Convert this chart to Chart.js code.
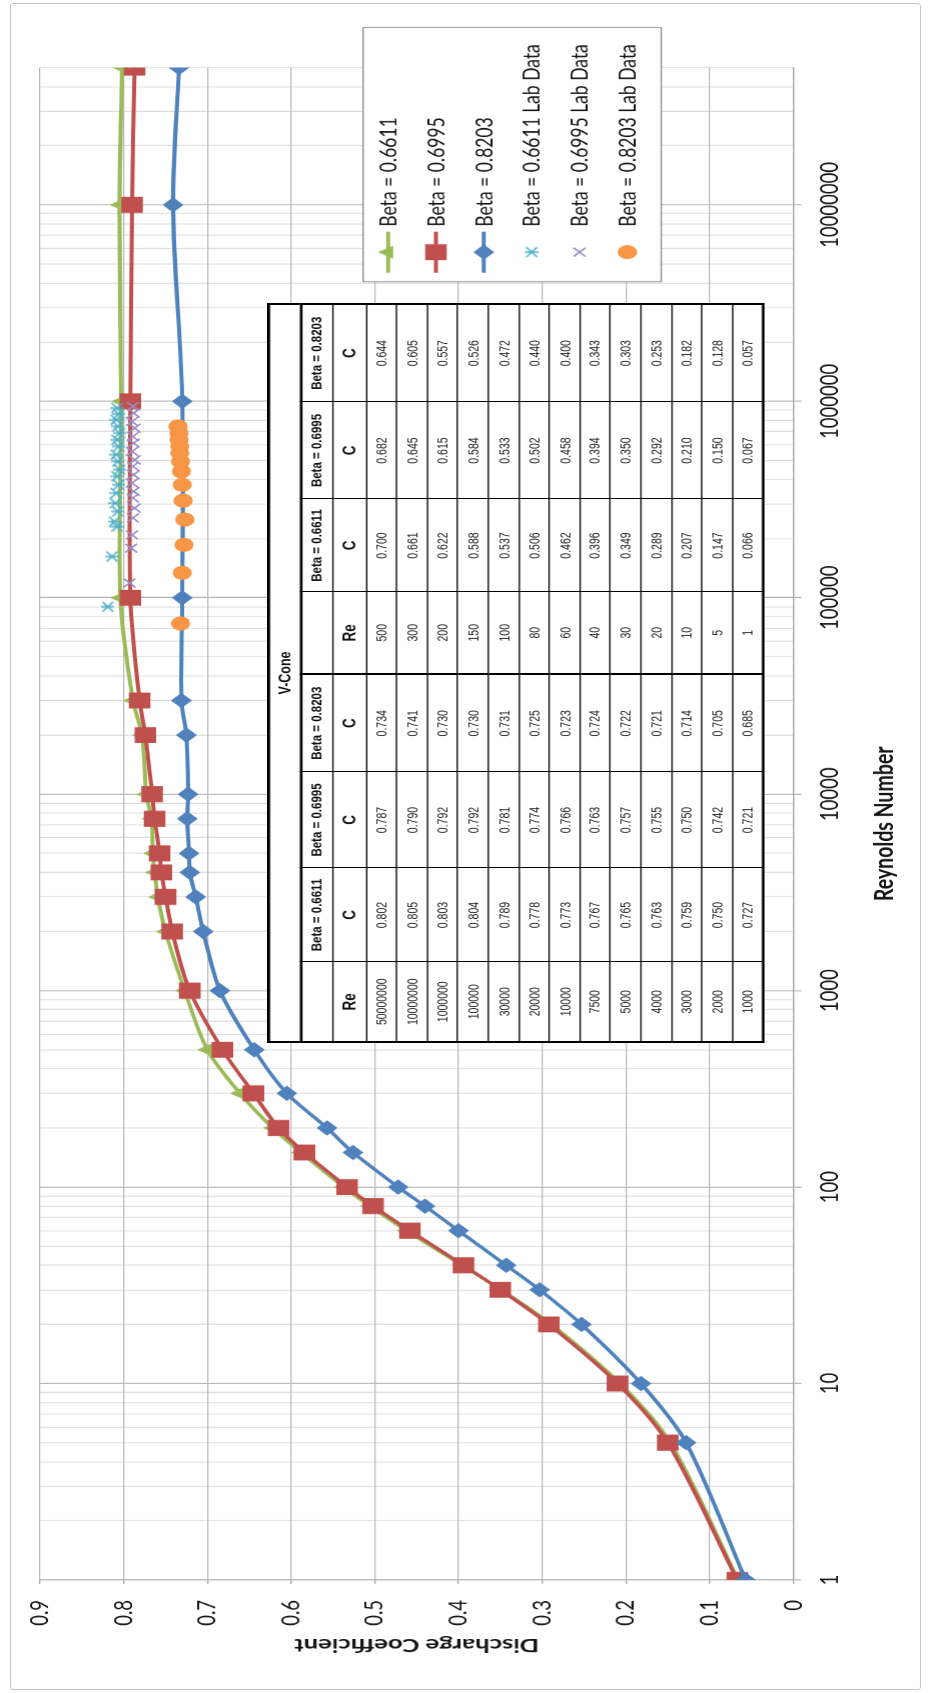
<!DOCTYPE html>
<html>
<head>
<meta charset="utf-8">
<title>V-Cone Discharge Coefficient vs Reynolds Number</title>
<script src="https://cdn.jsdelivr.net/npm/chart.js@4.4.1/dist/chart.umd.min.js"></script>
<style>
  html, body { margin: 0; padding: 0; background: #fff; }
  body { width: 928px; height: 1693px; position: relative; overflow: hidden; }
  #frame {
    position: absolute; left: 10px; top: 3px; width: 909px; height: 1685px;
    border: 1.5px solid #c4c4c4; border-radius: 3px;
  }
  /* The chart is laid out landscape and then turned a quarter turn to the left,
     with a vertical stretch applied before the turn. */
  #stage {
    position: absolute; left: 0; top: 0; width: 1693px; height: 687px;
    transform-origin: 0 0;
    transform: translate(0px, 1693px) rotate(-90deg) scaleY(1.3508);
  }
  #chart { position: absolute; left: 0; top: 0; }
  #vcone {
    position: absolute; left: 650px; top: 198.4px; width: 738px; height: 365.7px;
    border-collapse: collapse; table-layout: fixed; background: #fff;
    font-family: 'Liberation Sans', Arial, sans-serif; color: #111;
    border: 2px solid #000;
  }
  #vcone td { border: 1px solid #000; padding: 0; text-align: center; vertical-align: middle; line-height: 1; overflow: hidden; white-space: nowrap; }
  #vcone tr.t td { font-weight: bold; font-size: 12.5px; border-bottom: 2px solid #000; }
  #vcone tr.h td { font-weight: bold; font-size: 11.5px; }
  #vcone tr.rc td { font-weight: bold; font-size: 13.5px; }
  #vcone tr.d td { font-size: 10.5px; color: #222; }
  #vcone td.split { border-right: 2px solid #000; }
</style>
</head>
<body>
<div id="frame"></div>
<div id="stage">
  <canvas id="chart" width="1693" height="687"></canvas>
  <table id="vcone"></table>
</div>
<script>
// ---- Model curves (Reynolds number vs. discharge coefficient) ----
const RE = [1, 5, 10, 20, 30, 40, 60, 80, 100, 150, 200, 300, 500, 1000, 2000, 3000,
            4000, 5000, 7500, 10000, 20000, 30000, 100000, 1000000, 10000000, 50000000];
const C_6611 = [0.066, 0.147, 0.207, 0.289, 0.349, 0.396, 0.462, 0.506, 0.537, 0.588, 0.622, 0.661, 0.700,
                0.727, 0.750, 0.759, 0.763, 0.765, 0.767, 0.773, 0.778, 0.789, 0.804, 0.803, 0.805, 0.802];
const C_6995 = [0.067, 0.150, 0.210, 0.292, 0.350, 0.394, 0.458, 0.502, 0.533, 0.584, 0.615, 0.645, 0.682,
                0.721, 0.742, 0.750, 0.755, 0.757, 0.763, 0.766, 0.774, 0.781, 0.792, 0.792, 0.790, 0.787];
const C_8203 = [0.057, 0.128, 0.182, 0.253, 0.303, 0.343, 0.400, 0.440, 0.472, 0.526, 0.557, 0.605, 0.644,
                0.685, 0.705, 0.714, 0.721, 0.722, 0.724, 0.723, 0.725, 0.731, 0.730, 0.730, 0.741, 0.734];

// ---- Lab measurements ----
const LAB_RE_6611 = [90000, 162000, 230000, 244000, 275000, 303000, 341000, 376000, 415000, 449000,
                     494000, 535000, 589000, 637000, 689000, 745000, 805000, 862000, 925000];
const LAB_C_6611  = [0.819, 0.814, 0.808, 0.811, 0.807, 0.810, 0.809, 0.806, 0.808, 0.805,
                     0.807, 0.809, 0.806, 0.808, 0.805, 0.807, 0.809, 0.806, 0.808];
const LAB_RE_6995 = [119000, 179000, 209000, 255000, 286000, 322000, 348000, 384000, 423000, 467000,
                     504000, 556000, 613000, 662000, 731000, 790000, 871000, 942000];
const LAB_C_6995  = [0.793, 0.791, 0.790, 0.789, 0.787, 0.789, 0.788, 0.790, 0.788, 0.789,
                     0.787, 0.790, 0.788, 0.789, 0.787, 0.790, 0.788, 0.789];
const LAB_RE_8203 = [74000, 134000, 186000, 250000, 312000, 376000, 440000, 494000, 546000, 589000,
                     637000, 689000, 745000];
const LAB_C_8203  = [0.732, 0.730, 0.728, 0.727, 0.729, 0.730, 0.731, 0.732, 0.733, 0.733,
                     0.734, 0.734, 0.735];

// ---- Axes ----
const RE_MIN = 1;
const RE_MAX = 50000000;
const RE_DECADES = [1, 10, 100, 1000, 10000, 100000, 1000000, 10000000];
const RE_TICK_LABELS = ['1', '10', '100', '1000', '10000', '100000', '1000000', '10000000'];
const RE_MINOR_STEPS = [1, 2, 3, 4, 5, 6, 7, 8, 9];
const C_TICKS = [0, 0.1, 0.2, 0.3, 0.4, 0.5, 0.6, 0.7, 0.8, 0.9];
const C_TICK_LABELS = ['0', '0.1', '0.2', '0.3', '0.4', '0.5', '0.6', '0.7', '0.8', '0.9'];

const SERIES_NAMES = ['Beta = 0.6611', 'Beta = 0.6995', 'Beta = 0.8203',
                      'Beta = 0.6611 Lab Data', 'Beta = 0.6995 Lab Data', 'Beta = 0.8203 Lab Data'];

// log-axis grid positions: 1..9 within each decade, up to the axis maximum
const RE_GRID = [];
RE_DECADES.forEach(d => RE_MINOR_STEPS.forEach(m => { if (d * m <= RE_MAX) RE_GRID.push(d * m); }));
const isDecade = v => Math.abs(Math.log10(v) - Math.round(Math.log10(v))) < 1e-9;

const pts = (xs, ys) => xs.map((x, i) => ({ x: x, y: ys[i] }));

// asterisk marker (x with an upright bar)
function makeAsterisk(color) {
  const c = document.createElement('canvas');
  c.width = 12; c.height = 10;
  const g = c.getContext('2d');
  g.strokeStyle = color; g.lineWidth = 1.4;
  g.beginPath();
  g.moveTo(1, 1); g.lineTo(11, 9);
  g.moveTo(11, 1); g.lineTo(1, 9);
  g.moveTo(6, 0); g.lineTo(6, 10);
  g.stroke();
  return c;
}
const asterisk = makeAsterisk('#4BACC6');

const FONT = "Lato, 'Liberation Sans', sans-serif";
Chart.defaults.font.family = FONT;

const datasets = [
  { label: SERIES_NAMES[0], data: pts(RE, C_6611), showLine: true, borderColor: '#9BBB59', backgroundColor: '#9BBB59',
    borderWidth: 3, pointStyle: 'triangle', pointRadius: 6.5, pointBorderWidth: 1, tension: 0.3, order: 6 },
  { label: SERIES_NAMES[1], data: pts(RE, C_6995), showLine: true, borderColor: '#C0504D', backgroundColor: '#C0504D',
    borderWidth: 3, pointStyle: 'rect', pointRadius: 10.6, pointBorderWidth: 1, tension: 0.3, order: 5 },
  { label: SERIES_NAMES[2], data: pts(RE, C_8203), showLine: true, borderColor: '#4F81BD', backgroundColor: '#4F81BD',
    borderWidth: 3, pointStyle: 'rectRot', pointRadius: 7, pointBorderWidth: 1, tension: 0.3, order: 4 },
  { label: SERIES_NAMES[3], data: pts(LAB_RE_6611, LAB_C_6611), showLine: false, borderColor: '#4BACC6', backgroundColor: '#4BACC6',
    pointStyle: asterisk, pointRadius: 5, pointBorderWidth: 1.4, order: 3 },
  { label: SERIES_NAMES[4], data: pts(LAB_RE_6995, LAB_C_6995), showLine: false, borderColor: '#978CC4', backgroundColor: '#978CC4',
    pointStyle: 'crossRot', pointRadius: 6.2, pointBorderWidth: 1.4, order: 2 },
  { label: SERIES_NAMES[5], data: pts(LAB_RE_8203, LAB_C_8203), showLine: false, borderColor: '#F79646', backgroundColor: '#F79646',
    pointStyle: 'circle', pointRadius: 6.6, pointBorderWidth: 1, order: 1 }
];

// boxed legend drawn over the upper end of the plot
const boxedLegend = {
  id: 'boxedLegend',
  afterDraw(chart) {
    const ctx = chart.ctx;
    const box = { x: 1411, y: 268.7, w: 254, h: 220.6 };
    ctx.save();
    ctx.fillStyle = '#ffffff';
    ctx.fillRect(box.x, box.y, box.w, box.h);
    ctx.strokeStyle = '#8a8a8a';
    ctx.lineWidth = 1;
    ctx.strokeRect(box.x, box.y, box.w, box.h);
    chart.data.datasets.forEach((ds, i) => {
      const y = 287.2 + i * 35.4;
      if (ds.showLine) {
        ctx.strokeStyle = ds.borderColor;
        ctx.lineWidth = ds.borderWidth;
        ctx.beginPath();
        ctx.moveTo(1420, y); ctx.lineTo(1461, y);
        ctx.stroke();
      }
      ctx.fillStyle = ds.backgroundColor;
      ctx.strokeStyle = ds.borderColor;
      ctx.lineWidth = ds.pointBorderWidth;
      Chart.helpers.drawPoint(ctx, { pointStyle: ds.pointStyle, radius: ds.pointRadius, rotation: 0,
                                     borderWidth: ds.pointBorderWidth }, 1440.5, y);
      ctx.fillStyle = '#111';
      ctx.font = '17.5px ' + FONT;
      ctx.textAlign = 'left';
      ctx.textBaseline = 'middle';
      ctx.fillText(ds.label, 1466, y + 0.5);
    });
    ctx.restore();
  }
};

new Chart(document.getElementById('chart'), {
  type: 'scatter',
  data: { datasets: datasets },
  options: {
    responsive: false,
    animation: false,
    devicePixelRatio: 1.35,
    layout: { padding: { top: 29.6, right: 68, left: 0, bottom: 0 } },
    plugins: { legend: { display: false }, tooltip: { enabled: false } },
    scales: {
      x: {
        type: 'logarithmic', position: 'bottom', min: RE_MIN, max: RE_MAX,
        afterBuildTicks: s => { s.ticks = RE_GRID.map(v => ({ value: v, major: isDecade(v) })); },
        afterFit: s => { s.height = 100; },
        grid: {
          color: c => (c.tick && !isDecade(c.tick.value)) ? '#dcdcdc' : '#b0b0b0',
          tickColor: c => (c.tick && isDecade(c.tick.value)) ? '#a8a8a8' : 'rgba(0,0,0,0)',
          lineWidth: 1, tickLength: 6, drawTicks: true
        },
        border: { display: true, color: '#a4a4a4', width: 1 },
        ticks: {
          autoSkip: false, maxRotation: 0, minRotation: 0, padding: 10, color: '#151515',
          font: { family: FONT, size: 18.5 },
          callback: v => isDecade(v) ? RE_TICK_LABELS[RE_DECADES.indexOf(Math.round(v))] : ''
        },
        title: { display: true, text: 'Reynolds Number', color: '#151515',
                 font: { family: FONT, size: 19.5, weight: 'bold' }, padding: { top: 0, bottom: 20.8 } }
      },
      y: {
        type: 'linear', position: 'left', min: 0, max: 0.9,
        afterBuildTicks: s => { s.ticks = C_TICKS.map(v => ({ value: v })); },
        afterFit: s => { s.width = 113; },
        grid: { color: '#b8b8b8', lineWidth: 1, tickLength: 4, tickColor: '#a8a8a8' },
        border: { display: true, color: '#a4a4a4', width: 1 },
        ticks: {
          padding: 16, color: '#151515', font: { family: FONT, size: 18.5 },
          callback: (v, i) => C_TICK_LABELS[i]
        },
        title: { display: true, text: 'Discharge Coefficient', color: '#151515',
                 font: { family: FONT, size: 19, weight: 'bold' }, padding: { top: 36.5, bottom: 0 } }
      }
    }
  },
  plugins: [boxedLegend]
});

// ---- V-Cone data table (high Re on the left half, low Re on the right half) ----
(function buildTable() {
  const tbl = document.getElementById('vcone');
  const colWidths = [80, 94, 96, 98, 82, 93, 97, 98];
  const rowCount = 13;
  const fmt = v => v.toFixed(3);
  let html = '<colgroup>' + colWidths.map(w => '<col style="width:' + w + 'px">').join('') + '</colgroup>';
  html += '<tr class="t" style="height:23.7px"><td colspan="8">V-Cone</td></tr>';
  html += '<tr class="h" style="height:23.7px"><td></td><td>Beta = 0.6611</td><td>Beta = 0.6995</td>' +
          '<td class="split">Beta = 0.8203</td><td></td><td>Beta = 0.6611</td><td>Beta = 0.6995</td><td>Beta = 0.8203</td></tr>';
  html += '<tr class="rc" style="height:24.4px"><td>Re</td><td>C</td><td>C</td><td class="split">C</td>' +
          '<td>Re</td><td>C</td><td>C</td><td>C</td></tr>';
  for (let r = 0; r < rowCount; r++) {
    const a = RE.length - 1 - r;      // high-Re half
    const b = rowCount - 1 - r;       // low-Re half
    html += '<tr class="d" style="height:22.6px">' +
      '<td>' + RE[a] + '</td><td>' + fmt(C_6611[a]) + '</td><td>' + fmt(C_6995[a]) + '</td>' +
      '<td class="split">' + fmt(C_8203[a]) + '</td>' +
      '<td>' + RE[b] + '</td><td>' + fmt(C_6611[b]) + '</td><td>' + fmt(C_6995[b]) + '</td>' +
      '<td>' + fmt(C_8203[b]) + '</td></tr>';
  }
  tbl.innerHTML = html;
})();
</script>
</body>
</html>
